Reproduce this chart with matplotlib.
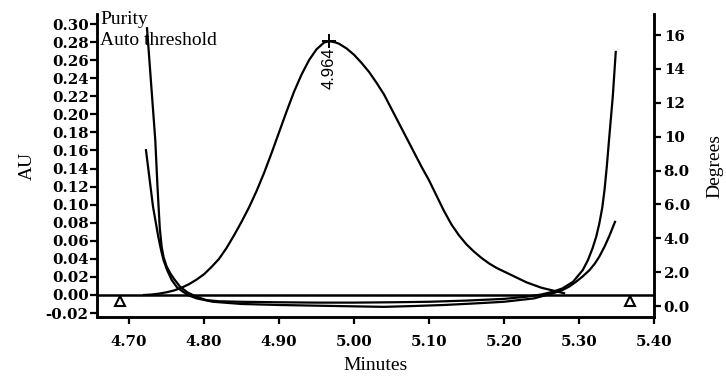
import matplotlib
matplotlib.use("Agg")
import matplotlib.pyplot as plt
from matplotlib.ticker import FixedLocator, FixedFormatter
from matplotlib.font_manager import FontProperties

# ---- data ----
peak_x = [4.720, 4.730, 4.740, 4.750, 4.760, 4.770, 4.780, 4.790, 4.800, 4.810,
          4.820, 4.830, 4.840, 4.850, 4.860, 4.870, 4.880, 4.890, 4.900, 4.910,
          4.920, 4.930, 4.940, 4.950, 4.960, 4.967, 4.975, 4.980, 4.990, 5.000,
          5.010, 5.020, 5.030, 5.040, 5.050, 5.060, 5.070, 5.080, 5.090, 5.100,
          5.110, 5.120, 5.130, 5.140, 5.150, 5.160, 5.170, 5.180, 5.190, 5.200,
          5.210, 5.220, 5.230, 5.240, 5.250, 5.260, 5.270, 5.280]
peak_au = [0.000, 0.0005, 0.0015, 0.003, 0.005, 0.008, 0.012, 0.017, 0.023, 0.031,
           0.040, 0.052, 0.066, 0.081, 0.097, 0.115, 0.135, 0.157, 0.180, 0.203,
           0.225, 0.244, 0.260, 0.272, 0.2795, 0.281, 0.2797, 0.2782, 0.273, 0.266,
           0.257, 0.247, 0.235, 0.222, 0.206, 0.190, 0.174, 0.158, 0.142, 0.127,
           0.110, 0.093, 0.078, 0.066, 0.056, 0.048, 0.041, 0.035, 0.030, 0.026,
           0.022, 0.018, 0.014, 0.011, 0.008, 0.006, 0.004, 0.002]

purity_x = [4.724, 4.728, 4.732, 4.735, 4.738, 4.741, 4.7435, 4.746, 4.750, 4.755,
            4.760, 4.768, 4.778, 4.790, 4.803, 4.820, 4.848, 4.900, 4.950, 5.000,
            5.050, 5.100, 5.150, 5.200, 5.230, 5.250, 5.265, 5.278, 5.292, 5.305,
            5.312, 5.318, 5.323, 5.327, 5.331, 5.334, 5.337, 5.340, 5.345, 5.349]
purity_deg = [16.4, 14.0, 11.6, 9.8, 7.0, 4.6, 3.5, 2.9, 2.35, 1.93,
              1.6, 1.14, 0.80, 0.55, 0.35, 0.28, 0.25, 0.22, 0.20, 0.20,
              0.22, 0.25, 0.32, 0.42, 0.55, 0.68, 0.84, 1.04, 1.43, 2.12,
              2.72, 3.40, 4.10, 4.85, 5.80, 6.84, 8.20, 9.79, 12.35, 15.0]

thresh_x = [4.7226, 4.732, 4.739, 4.7425, 4.746, 4.751, 4.757, 4.764, 4.772, 4.780,
            4.790, 4.812, 4.850, 4.900, 4.950, 5.000, 5.040, 5.080, 5.120, 5.160,
            5.200, 5.240, 5.265, 5.278, 5.287, 5.296, 5.305, 5.314, 5.321, 5.327,
            5.334, 5.340, 5.348]
thresh_deg = [9.2, 5.86, 4.09, 3.35, 2.71, 2.10, 1.53, 1.10, 0.84, 0.62,
              0.45, 0.25, 0.12, 0.06, 0.02, -0.02, -0.05, 0.00, 0.06, 0.15,
              0.25, 0.45, 0.75, 0.94, 1.15, 1.43, 1.75, 2.12, 2.50, 2.91,
              3.50, 4.09, 4.97]

peak_label = "4.964"
peak_mark_x = 4.967
peak_height = 0.281
marker_x = [4.688, 5.368]
marker_au = [-0.0063, -0.0063]

x_ticks = [4.70, 4.80, 4.90, 5.00, 5.10, 5.20, 5.30, 5.40]
x_labels = ["4.70", "4.80", "4.90", "5.00", "5.10", "5.20", "5.30", "5.40"]
au_ticks = [-0.02, 0.00, 0.02, 0.04, 0.06, 0.08, 0.10, 0.12, 0.14, 0.16, 0.18,
            0.20, 0.22, 0.24, 0.26, 0.28, 0.30]
au_labels = ["-0.02", "0.00", "0.02", "0.04", "0.06", "0.08", "0.10", "0.12",
             "0.14", "0.16", "0.18", "0.20", "0.22", "0.24", "0.26", "0.28", "0.30"]
deg_ticks = [0, 2, 4, 6, 8, 10, 12, 14, 16]
deg_labels = ["0.0", "2.0", "4.0", "6.0", "8.0", "10", "12", "14", "16"]

# ---- figure ----
W, H = 726, 379
fig = plt.figure(figsize=(W / 100, H / 100), dpi=100)
L, R, T, B = 97, 654, 14, 317
ax = fig.add_axes([L / W, 1 - B / H, (R - L) / W, (B - T) / H])
ax2 = ax.twinx()

serif = "Liberation Serif"
tickfont = dict(family="DejaVu Serif", weight="bold", size=10.8)

lw = 1.6
ax.plot(peak_x, peak_au, color="black", lw=lw, solid_joinstyle="round")
ax.axhline(0, color="black", lw=1.8)
ax.plot([peak_mark_x], [peak_height], marker="+", color="black", ms=10, mew=1.4)
ax.text(peak_mark_x, 0.2745, peak_label, rotation=90, ha="center", va="top",
        family="Liberation Sans", size=12)
ax.plot(marker_x, marker_au, linestyle="none", marker="^", ms=7.5,
        mfc="white", mec="black", mew=1.5)

ax2.plot(purity_x, purity_deg, color="black", lw=lw, solid_joinstyle="round")
ax2.plot(thresh_x, thresh_deg, color="black", lw=lw, solid_joinstyle="round")

ax.set_xlim(4.6573, 5.40)
ax.set_ylim(-0.02436, 0.3111)
ax2.set_ylim(-0.649, 17.24)

ax.xaxis.set_major_locator(FixedLocator(x_ticks))
ax.xaxis.set_major_formatter(FixedFormatter(x_labels))
ax.yaxis.set_major_locator(FixedLocator(au_ticks))
ax.yaxis.set_major_formatter(FixedFormatter(au_labels))
ax2.yaxis.set_major_locator(FixedLocator(deg_ticks))
ax2.yaxis.set_major_formatter(FixedFormatter(deg_labels))

for a in (ax, ax2):
    a.spines["top"].set_visible(False)
    for s in ("left", "right", "bottom"):
        a.spines[s].set_linewidth(1.8)

ax.tick_params(axis="x", direction="out", length=5, width=1.6, pad=8)
ax.tick_params(axis="y", direction="out", length=5, width=1.6, pad=1)
ax2.tick_params(axis="y", direction="out", length=5, width=1.6, pad=2)
for lab in ax.get_xticklabels() + ax.get_yticklabels() + ax2.get_yticklabels():
    lab.set_fontproperties(FontProperties(**tickfont))

ax.set_xlabel("Minutes", family=serif, size=14, labelpad=6)
ax.set_ylabel("AU", family=serif, size=14, labelpad=7)
ax2.set_ylabel("Degrees", family=serif, size=14, labelpad=12)

fig.text(100 / W, 1 - 24 / H, "Purity", family=serif, size=14, va="baseline")
fig.text(100 / W, 1 - 45 / H, "Auto threshold", family=serif, size=14, va="baseline")

fig.savefig("out.png", dpi=100)
